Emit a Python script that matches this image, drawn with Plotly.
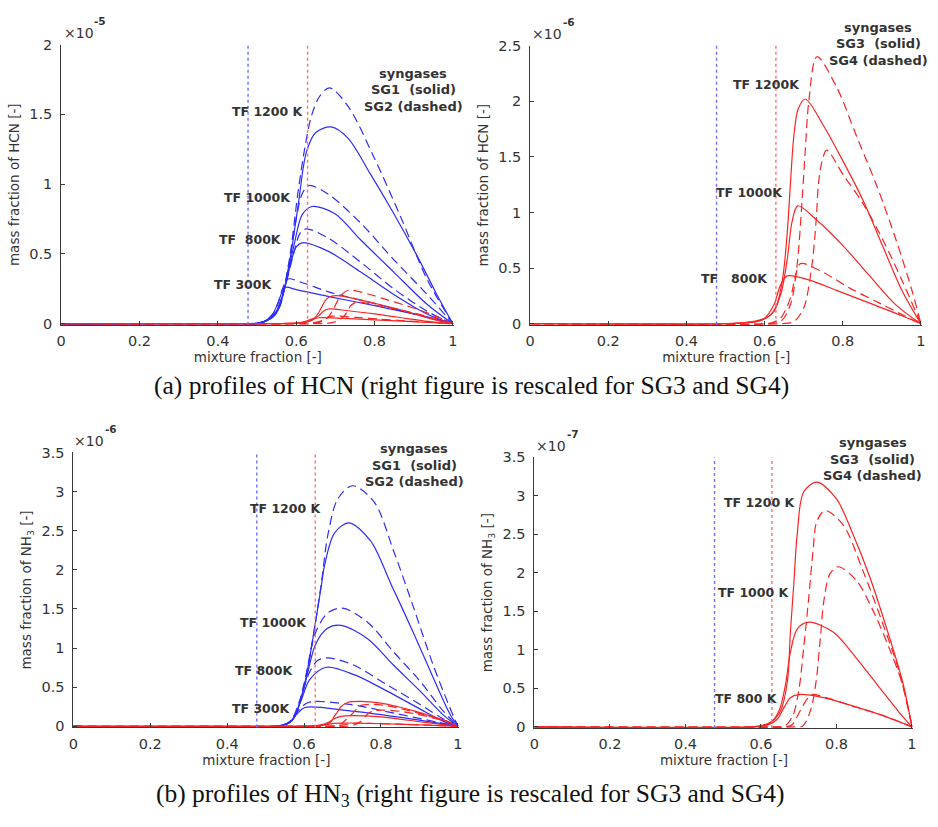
import plotly.graph_objects as go

W, H = 938, 827

# ---------------------------------------------------------------------------
# Profiles: (mixture fraction Z, mass fraction) pairs
# ---------------------------------------------------------------------------
# HCN, syngases SG1 (solid) / SG2 (dashed), unit 1e-5
HCN_SG1_300 = [(0, 0), (0.48, 0), (0.52, 0.02), (0.54, 0.07), (0.555, 0.16), (0.571, 0.26),
               (0.60, 0.245), (0.681, 0.196), (0.807, 0.126), (0.934, 0.05), (1, 0)]
HCN_SG2_300 = [(0, 0), (0.49, 0), (0.53, 0.03), (0.55, 0.12), (0.565, 0.25), (0.578, 0.32),
               (0.62, 0.29), (0.681, 0.23), (0.807, 0.14), (0.934, 0.045), (1, 0)]
HCN_SG1_800 = [(0, 0), (0.50, 0), (0.54, 0.05), (0.565, 0.20), (0.585, 0.42), (0.60, 0.55),
               (0.615, 0.58), (0.681, 0.52), (0.765, 0.37), (0.849, 0.21), (0.934, 0.07), (1, 0)]
HCN_SG2_800 = [(0, 0), (0.50, 0), (0.545, 0.06), (0.57, 0.25), (0.595, 0.52), (0.61, 0.65),
               (0.625, 0.68), (0.681, 0.615), (0.765, 0.44), (0.849, 0.25), (0.934, 0.09), (1, 0)]
HCN_SG1_1000 = [(0, 0), (0.50, 0), (0.545, 0.06), (0.57, 0.25), (0.595, 0.57), (0.615, 0.78),
                (0.64, 0.84), (0.698, 0.79), (0.765, 0.60), (0.849, 0.37), (0.934, 0.14), (1, 0)]
HCN_SG2_1000 = [(0, 0), (0.50, 0), (0.545, 0.07), (0.575, 0.33), (0.60, 0.75), (0.615, 0.93),
                (0.632, 0.99), (0.681, 0.93), (0.765, 0.72), (0.849, 0.46), (0.934, 0.21), (1, 0)]
HCN_SG1_1200 = [(0, 0), (0.50, 0), (0.55, 0.08), (0.58, 0.40), (0.605, 0.85), (0.626, 1.23),
                (0.65, 1.37), (0.689, 1.41), (0.732, 1.33), (0.79, 1.07), (0.849, 0.79),
                (0.908, 0.49), (0.959, 0.21), (1, 0)]
HCN_SG2_1200 = [(0, 0), (0.50, 0), (0.55, 0.08), (0.58, 0.42), (0.605, 0.95), (0.622, 1.26),
                (0.639, 1.49), (0.66, 1.63), (0.685, 1.69), (0.732, 1.56), (0.799, 1.19),
                (0.866, 0.77), (0.934, 0.32), (1, 0)]

# HCN, syngases SG3 (solid) / SG4 (dashed), unit 1e-6
HCN_SG3_800 = [(0, 0), (0.50, 0), (0.55, 0.01), (0.60, 0.05), (0.624, 0.17), (0.641, 0.35),
               (0.658, 0.43), (0.717, 0.39), (0.784, 0.30), (0.869, 0.185), (0.953, 0.07), (1, 0)]
HCN_SG4_800 = [(0, 0), (0.60, 0), (0.62, 0.01), (0.641, 0.05), (0.666, 0.23), (0.679, 0.43),
               (0.692, 0.54), (0.751, 0.46), (0.818, 0.32), (0.886, 0.20), (0.953, 0.08), (1, 0)]
HCN_SG3_1000 = [(0, 0), (0.50, 0), (0.55, 0.01), (0.58, 0.02), (0.616, 0.08), (0.641, 0.26),
                (0.658, 0.58), (0.671, 0.93), (0.685, 1.06), (0.734, 0.93), (0.801, 0.70),
                (0.869, 0.43), (0.936, 0.17), (1, 0)]
HCN_SG4_1000 = [(0, 0), (0.64, 0), (0.675, 0.02), (0.70, 0.14), (0.721, 0.52), (0.732, 0.93),
                (0.738, 1.26), (0.747, 1.46), (0.759, 1.56), (0.801, 1.34), (0.852, 1.08),
                (0.902, 0.76), (0.953, 0.38), (1, 0)]
HCN_SG3_1200 = [(0, 0), (0.50, 0), (0.55, 0.01), (0.582, 0.02), (0.624, 0.11), (0.645, 0.38),
                (0.658, 0.82), (0.666, 1.25), (0.675, 1.69), (0.686, 1.93), (0.704, 2.02),
                (0.751, 1.78), (0.801, 1.46), (0.852, 1.11), (0.902, 0.70), (0.953, 0.29), (1, 0)]
HCN_SG4_1200 = [(0, 0), (0.60, 0), (0.641, 0.02), (0.666, 0.17), (0.683, 0.52), (0.696, 1.11),
                (0.704, 1.55), (0.713, 1.99), (0.734, 2.40), (0.784, 2.13), (0.835, 1.69),
                (0.886, 1.25), (0.936, 0.76), (0.978, 0.29), (1, 0)]

# NH3, syngases SG1 (solid) / SG2 (dashed), unit 1e-6
NH3_SG1_300 = [(0, 0), (0.52, 0), (0.56, 0.04), (0.58, 0.15), (0.602, 0.24), (0.713, 0.20),
               (0.842, 0.12), (0.95, 0.04), (1, 0)]
NH3_SG2_300 = [(0, 0), (0.52, 0), (0.56, 0.05), (0.585, 0.20), (0.611, 0.305), (0.713, 0.283),
               (0.842, 0.16), (0.95, 0.05), (1, 0)]
NH3_SG1_800 = [(0, 0), (0.53, 0), (0.565, 0.06), (0.59, 0.30), (0.615, 0.60), (0.658, 0.755),
               (0.730, 0.66), (0.816, 0.45), (0.902, 0.22), (0.96, 0.07), (1, 0)]
NH3_SG2_800 = [(0, 0), (0.53, 0), (0.565, 0.07), (0.59, 0.35), (0.615, 0.70), (0.635, 0.84),
               (0.662, 0.875), (0.730, 0.78), (0.816, 0.53), (0.902, 0.28), (0.96, 0.10), (1, 0)]
NH3_SG1_1000 = [(0, 0), (0.53, 0), (0.57, 0.08), (0.60, 0.50), (0.63, 1.05), (0.66, 1.25),
                (0.696, 1.29), (0.765, 1.12), (0.833, 0.78), (0.902, 0.45), (0.961, 0.15), (1, 0)]
NH3_SG2_1000 = [(0, 0), (0.53, 0), (0.57, 0.08), (0.60, 0.55), (0.63, 1.20), (0.662, 1.45),
                (0.70, 1.51), (0.765, 1.33), (0.833, 0.95), (0.902, 0.575), (0.961, 0.20), (1, 0)]
NH3_SG1_1200 = [(0, 0), (0.53, 0), (0.568, 0.07), (0.593, 0.37), (0.611, 0.78), (0.628, 1.28),
                (0.645, 1.80), (0.653, 2.05), (0.679, 2.47), (0.717, 2.60), (0.773, 2.37),
                (0.825, 1.83), (0.884, 1.20), (0.936, 0.62), (0.979, 0.16), (1, 0)]
NH3_SG2_1200 = [(0, 0), (0.53, 0), (0.568, 0.075), (0.593, 0.37), (0.611, 0.78), (0.628, 1.28),
                (0.645, 1.83), (0.662, 2.45), (0.688, 2.91), (0.726, 3.075), (0.782, 2.87),
                (0.833, 2.24), (0.884, 1.53), (0.936, 0.78), (0.979, 0.24), (1, 0)]

# NH3, syngases SG3 (solid) / SG4 (dashed), unit 1e-7
NH3_SG3_800 = [(0, 0), (0.58, 0), (0.62, 0.03), (0.643, 0.10), (0.661, 0.25), (0.678, 0.38),
               (0.70, 0.42), (0.766, 0.38), (0.844, 0.27), (0.922, 0.15), (1, 0)]
NH3_SG4_800 = [(0, 0), (0.65, 0), (0.68, 0.02), (0.704, 0.21), (0.722, 0.36), (0.735, 0.42),
               (0.766, 0.39), (0.844, 0.27), (0.922, 0.15), (1, 0)]
NH3_SG3_1000 = [(0, 0), (0.58, 0), (0.626, 0.06), (0.648, 0.21), (0.665, 0.55), (0.678, 0.97),
                (0.696, 1.27), (0.726, 1.36), (0.792, 1.23), (0.853, 0.89), (0.914, 0.51),
                (0.966, 0.19), (1, 0)]
NH3_SG4_1000 = [(0, 0), (0.68, 0), (0.71, 0.01), (0.731, 0.21), (0.746, 0.59), (0.757, 1.14),
                (0.767, 1.65), (0.783, 1.99), (0.805, 2.08), (0.853, 1.90), (0.896, 1.52),
                (0.940, 1.02), (0.975, 0.55), (1, 0)]
NH3_SG3_1200 = [(0, 0), (0.58, 0), (0.60, 0.01), (0.626, 0.06), (0.652, 0.21), (0.670, 0.59),
                (0.678, 1.23), (0.687, 1.86), (0.696, 2.50), (0.713, 3.05), (0.748, 3.18),
                (0.80, 2.96), (0.844, 2.50), (0.888, 1.95), (0.931, 1.31), (0.975, 0.59), (1, 0)]
NH3_SG4_1200 = [(0, 0), (0.64, 0), (0.66, 0), (0.683, 0.13), (0.70, 0.47), (0.713, 1.02),
                (0.726, 1.65), (0.738, 2.29), (0.748, 2.67), (0.770, 2.81), (0.818, 2.62),
                (0.870, 2.03), (0.922, 1.35), (0.966, 0.72), (1, 0)]

# stoichiometric mixture fractions (vertical dotted markers)
Z_ST_BLUE = 0.477
Z_ST_RED = 0.629

X_TICKS = [0, 0.2, 0.4, 0.6, 0.8, 1]
X_TICKTEXT = ["0", "0.2", "0.4", "0.6", "0.8", "1"]
Y_TICKS_HCN_LEFT = [0, 0.5, 1, 1.5, 2]
Y_TICKS_HCN_RIGHT = [0, 0.5, 1, 1.5, 2, 2.5]
Y_TICKS_NH3 = [0, 0.5, 1, 1.5, 2, 2.5, 3, 3.5]

# ---------------------------------------------------------------------------
BLUE = "rgb(45,45,250)"
RED = "rgb(250,35,35)"
BLUE_DOT = "rgb(110,110,255)"
RED_DOT = "rgb(255,110,110)"
AX = "#3a3a3a"
TXT = "#333333"
SANS = "DejaVu Sans"
DASH = "9px,5px"


def px(X, Y):
    """pixel position -> paper coordinates"""
    return X / W, 1 - Y / H


fig = go.Figure()


def curve(pts, k, color, dash, scale=1.0):
    fig.add_trace(go.Scatter(
        x=[p[0] for p in pts], y=[p[1] * scale for p in pts],
        mode="lines", xaxis="x" if k == 1 else f"x{k}", yaxis="y" if k == 1 else f"y{k}",
        line=dict(color=color, width=1.2, dash=dash, shape="spline", smoothing=0.9),
        showlegend=False, hoverinfo="skip"))


# panel 1: HCN, SG1/SG2 (+ SG3/SG4 on the same scale)
for s, d in [(HCN_SG1_300, HCN_SG2_300), (HCN_SG1_800, HCN_SG2_800),
             (HCN_SG1_1000, HCN_SG2_1000), (HCN_SG1_1200, HCN_SG2_1200)]:
    curve(s, 1, BLUE, "solid")
    curve(d, 1, BLUE, DASH)
for s, d in [(HCN_SG3_800, HCN_SG4_800), (HCN_SG3_1000, HCN_SG4_1000),
             (HCN_SG3_1200, HCN_SG4_1200)]:
    curve(s, 1, RED, "solid", 0.1)
    curve(d, 1, RED, DASH, 0.1)
# panel 2: HCN, SG3/SG4 rescaled
for s, d in [(HCN_SG3_800, HCN_SG4_800), (HCN_SG3_1000, HCN_SG4_1000),
             (HCN_SG3_1200, HCN_SG4_1200)]:
    curve(s, 2, RED, "solid")
    curve(d, 2, RED, DASH)
# panel 3: NH3, SG1/SG2 (+ SG3/SG4 on the same scale)
for s, d in [(NH3_SG1_300, NH3_SG2_300), (NH3_SG1_800, NH3_SG2_800),
             (NH3_SG1_1000, NH3_SG2_1000), (NH3_SG1_1200, NH3_SG2_1200)]:
    curve(s, 3, BLUE, "solid")
    curve(d, 3, BLUE, DASH)
for s, d in [(NH3_SG3_800, NH3_SG4_800), (NH3_SG3_1000, NH3_SG4_1000),
             (NH3_SG3_1200, NH3_SG4_1200)]:
    curve(s, 3, RED, "solid", 0.1)
    curve(d, 3, RED, DASH, 0.1)
# panel 4: NH3, SG3/SG4 rescaled
for s, d in [(NH3_SG3_800, NH3_SG4_800), (NH3_SG3_1000, NH3_SG4_1000),
             (NH3_SG3_1200, NH3_SG4_1200)]:
    curve(s, 4, RED, "solid")
    curve(d, 4, RED, DASH)

# panel frames in pixels: (left, right, top, bottom)
PANELS = {
    1: (56.7, 453.3, 37.3, 322.7),
    2: (529.7, 925.3, 38.3, 322.7),
    3: (69.0, 458.3, 452.7, 732.7),
    4: (534.0, 916.3, 457.7, 733.3),
}
YTICKS = {1: Y_TICKS_HCN_LEFT, 2: Y_TICKS_HCN_RIGHT, 3: Y_TICKS_NH3, 4: Y_TICKS_NH3}
YTITLE = {1: "mass fraction of HCN [-]", 2: "mass fraction of HCN [-]",
          3: "mass fraction of NH<sub>3</sub> [-]", 4: "mass fraction of NH<sub>3</sub> [-]"}

layout = dict(width=W, height=H, margin=dict(l=0, r=0, t=0, b=0),
              paper_bgcolor="white", plot_bgcolor="white", showlegend=False)
tickfont = dict(family=SANS, size=14.5, color=TXT)
titlefont = dict(family=SANS, size=13.5, color=TXT)
for k, (l, r, t, b) in PANELS.items():
    ymax = YTICKS[k][-1]
    sx = "" if k == 1 else str(k)
    layout[f"xaxis{sx}"] = dict(
        domain=[l / W, r / W], range=[0, 1.004], anchor=f"y{sx}",
        tickvals=X_TICKS, ticktext=X_TICKTEXT, ticks="inside", ticklen=4, tickcolor=AX,
        showline=True, linecolor=AX, linewidth=1, showgrid=False, zeroline=False,
        tickfont=tickfont, ticklabelstandoff=3,
        title=dict(text="mixture fraction [-]", font=titlefont, standoff=4))
    layout[f"yaxis{sx}"] = dict(
        domain=[1 - b / H, 1 - t / H], range=[-0.004 * ymax, ymax], anchor=f"x{sx}",
        tickvals=YTICKS[k], ticks="inside", ticklen=4, tickcolor=AX,
        showline=True, linecolor=AX, linewidth=1, showgrid=False, zeroline=False,
        tickfont=tickfont, ticklabelstandoff=5,
        title=dict(text=YTITLE[k], font=titlefont, standoff=6))
fig.update_layout(**layout)

# stoichiometric markers
for k in PANELS:
    sx = "" if k == 1 else str(k)
    for z, c in [(Z_ST_BLUE, BLUE_DOT), (Z_ST_RED, RED_DOT)]:
        fig.add_shape(type="line", xref=f"x{sx}", yref=f"y{sx} domain",
                      x0=z, x1=z, y0=0, y1=1, line=dict(color=c, width=1.4, dash="dot"))

ann = []


def label(text, X, Y, size=12.5, xanchor="center", bold=True, family=SANS, color=TXT):
    x, y = px(X, Y)
    ann.append(dict(text=f"<b>{text}</b>" if bold else text, x=x, y=y, xref="paper", yref="paper",
                    xanchor=xanchor, yanchor="middle", showarrow=False,
                    font=dict(family=family, size=size, color=color)))


NB = "\u00a0"
# temperature labels
label("TF 1200 K", 265, 105)
label("TF 1000K", 255, 193)
label(f"TF {NB}800K", 248, 236)
label("TF 300K", 241, 282)
label("TF 1200K", 768, 78)
label("TF 1000K", 751, 188)
label(f"TF {NB}{NB}800K", 736, 276)
label("TF 1200 K", 283, 510)
label("TF 1000K", 271, 626)
label("TF 800K", 262, 675)
label("TF 300K", 259, 713)
label("TF 1200 K", 761, 504)
label("TF 1000 K", 755, 595)
label("TF 800 K", 748, 703)

# syngas keys
for X, Y0, a, b in [(412, 67, "SG1", "SG2"), (881, 20, "SG3", "SG4"),
                    (413, 449, "SG1", "SG2"), (875, 443, "SG3", "SG4")]:
    label("syngases", X, Y0, size=13)
    label(f"{a} {NB}(solid)", X, Y0 + 16.5, size=13)
    label(f"{b} (dashed)", X, Y0 + 33, size=13)

# axis exponent labels
for X, Y, e in [(57, 25, "-5"), (530, 26, "-6"), (68, 441, "-6"), (534, 446, "-7")]:
    label("\u00d710", X, Y, size=14, xanchor="left", bold=False)
    label(e, X + 31, Y - 12, size=10.5, xanchor="left", bold=True)

# sub-figure captions
label("(a) profiles of HCN (right figure is rescaled for SG3 and SG4)", 471, 384,
      size=25.5, bold=False, family="Liberation Serif", color="#111111")
label("(b) profiles of HN<sub>3</sub> (right figure is rescaled for SG3 and SG4)", 469, 802,
      size=25.5, bold=False, family="Liberation Serif", color="#111111")

fig.update_layout(annotations=ann)
fig.write_html("out.html")
